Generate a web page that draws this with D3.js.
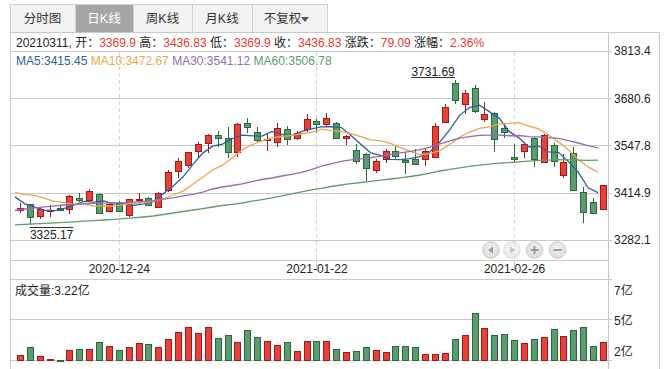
<!DOCTYPE html>
<html><head><meta charset="utf-8">
<script src="https://cdn.jsdelivr.net/npm/d3@7"></script>
<style>
html,body{margin:0;padding:0;background:#fff;}
svg{display:block;font-family:"Liberation Sans","Noto Sans CJK SC",sans-serif;}
</style></head><body><svg id="c" width="667" height="369"></svg>
<script>
// ---------------- data ----------------
const dates = ["2020-12-10","2020-12-11","2020-12-14","2020-12-15","2020-12-16","2020-12-17","2020-12-18","2020-12-21","2020-12-22","2020-12-23",
"2020-12-24","2020-12-25","2020-12-28","2020-12-29","2020-12-30","2020-12-31","2021-01-04","2021-01-05","2021-01-06","2021-01-07",
"2021-01-08","2021-01-11","2021-01-12","2021-01-13","2021-01-14","2021-01-15","2021-01-18","2021-01-19","2021-01-20","2021-01-21",
"2021-01-22","2021-01-25","2021-01-26","2021-01-27","2021-01-28","2021-01-29","2021-02-01","2021-02-02","2021-02-03","2021-02-04",
"2021-02-05","2021-02-08","2021-02-09","2021-02-10","2021-02-18","2021-02-19","2021-02-22","2021-02-23","2021-02-24","2021-02-25",
"2021-02-26","2021-03-01","2021-03-02","2021-03-03","2021-03-04","2021-03-05","2021-03-08","2021-03-09","2021-03-10","2021-03-11"];
const opens = [3368.0,3383.0,3350.5,3365.0,3372.0,3368.4,3401.0,3396.5,3410.5,3363.6,
3387.0,3351.5,3396.0,3399.0,3375.7,3422.6,3474.68,3492.19,3530.91,3552.91,
3577.71,3570.0,3528.7,3611.0,3587.0,3563.0,3557.0,3595.0,3568.0,3594.0,
3615.7,3607.4,3611.0,3568.0,3535.0,3523.0,3480.7,3511.7,3532.0,3507.0,
3509.8,3509.0,3516.0,3613.0,3722.6,3664.4,3708.5,3621.4,3638.0,3596.0,
3515.4,3531.0,3568.0,3500.5,3548.0,3465.7,3525.8,3416.0,3389.8,3369.9];
const highs = [3385.0,3384.5,3371.0,3380.5,3380.5,3408.6,3415.0,3425.0,3415.0,3390.0,
3391.0,3398.0,3413.0,3402.0,3418.0,3479.0,3511.65,3530.0,3556.8,3580.0,
3588.5,3600.0,3610.0,3624.0,3600.0,3584.0,3610.0,3601.4,3589.3,3636.0,
3621.0,3640.0,3614.7,3577.3,3552.0,3525.8,3509.0,3538.0,3546.0,3528.6,
3537.0,3540.0,3610.0,3664.4,3731.69,3704.0,3717.8,3670.0,3642.8,3610.0,
3551.0,3554.0,3572.5,3579.0,3555.6,3523.8,3544.4,3430.0,3399.3,3436.83];
const lows = [3357.0,3325.17,3340.0,3347.6,3363.0,3355.0,3390.0,3390.0,3355.0,3360.8,
3361.6,3346.0,3387.0,3376.8,3372.0,3418.0,3457.21,3484.72,3513.08,3526.62,
3544.4,3512.0,3515.3,3582.0,3558.4,3533.0,3544.0,3550.0,3563.0,3586.5,
3584.0,3600.6,3566.0,3549.0,3495.7,3446.72,3469.6,3497.7,3507.0,3467.6,
3493.0,3490.0,3514.6,3610.0,3663.5,3635.5,3638.0,3614.6,3530.0,3568.0,
3500.5,3511.7,3486.5,3497.7,3488.0,3457.0,3422.6,3328.52,3355.0,3369.9];
const closes = [3373.28,3347.19,3369.12,3367.23,3366.98,3404.87,3394.90,3420.57,3356.78,3382.32,
3363.11,3396.56,3397.29,3379.04,3414.45,3473.07,3502.96,3528.68,3550.88,3576.20,
3570.11,3531.50,3608.34,3598.65,3565.90,3566.38,3596.22,3566.12,3583.09,3621.26,
3606.75,3624.24,3569.43,3573.34,3505.18,3483.07,3505.31,3533.68,3517.31,3501.86,
3496.33,3532.44,3603.49,3655.09,3675.36,3696.17,3642.44,3636.36,3564.08,3585.05,
3509.08,3551.40,3508.59,3576.90,3503.49,3501.99,3421.41,3359.29,3357.74,3436.83];
// closes of the 9 sessions before the first one shown (needed for MA5 / MA10)
const prevCloses = [3408.31,3391.76,3451.94,3449.38,3442.14,3444.58,3416.60,3410.18,3371.96];
const ma30 = [3365.0,3369.2,3372.6,3375.4,3378.2,3380.5,3382.5,3383.9,3385.0,3385.8,
3386.4,3387.2,3388.4,3390.3,3392.9,3396.8,3400.7,3406.1,3410.6,3417.0,
3425.5,3431.1,3435.3,3440.1,3446.5,3452.2,3456.4,3462.0,3466.8,3472.44,
3480.22,3489.46,3496.14,3503.01,3507.62,3510.23,3513.91,3517.68,3523.03,3527.01,
3531.45,3535.98,3542.85,3552.05,3560.75,3568.19,3572.84,3576.43,3576.87,3577.17,
3575.14,3575.80,3572.47,3571.74,3569.66,3567.51,3561.68,3554.79,3547.28,3541.12];
const ma60 = [3324.8,3326.2,3327.6,3329.0,3330.4,3331.9,3333.3,3334.9,3336.6,3338.3,
3340.3,3342.3,3344.5,3346.8,3349.6,3353.8,3358.0,3362.2,3366.4,3370.6,
3374.9,3379.1,3382.5,3386.1,3391.2,3395.9,3400.7,3406.3,3412.0,3417.6,
3422.7,3427.4,3432.5,3436.7,3440.4,3443.7,3447.1,3450.2,3453.6,3456.9,
3460.6,3464.8,3470.4,3476.1,3480.8,3485.1,3488.9,3492.4,3495.6,3498.0,
3499.61,3501.99,3503.94,3506.02,3506.92,3507.92,3507.53,3506.57,3505.70,3506.78];
// volume in 亿
const volumes = [2.23,2.88,2.15,1.94,1.88,2.61,2.69,2.69,3.22,2.91,
2.61,2.84,3.14,3.07,2.84,3.45,3.98,4.37,3.91,4.37,
3.53,3.76,3.22,4.14,3.60,3.30,2.99,3.22,2.53,3.30,
3.30,3.30,2.69,2.46,2.53,2.84,2.61,2.46,2.91,2.91,
2.84,2.30,2.30,2.38,3.45,3.76,5.44,4.29,3.76,3.83,
3.37,3.14,3.45,3.60,4.21,3.68,4.14,4.37,2.91,3.22];
const priceTicks = [3282.1,3414.9,3547.8,3680.6,3813.4];
const dateTicks = ["2020-12-24","2021-01-22","2021-02-26"];
const volTickLabels = ["7亿","5亿","2亿"];
const tabNames = ["分时图","日K线","周K线","月K线","不复权"];
const maNames = ["MA5","MA10","MA30","MA60"];

// ---------------- setup ----------------
const svg = d3.select("#c");
const FONT = 12;
const LEFT = 10.5, PR = 608.5, OUTR = 659.5, TOP = 32.5;
const RED = "#e8413a", REDS = "#9e1b1b", GRN = "#5b9b70", GRNS = "#2a6838";
const maColors = ["#2d5f9a","#e9a84c","#9b69b3","#5c9e70"];
const GRID = "#c9c9c9";

const x = d3.scalePoint().domain(dates).range([20, 603]);
const y = d3.scaleLinear().domain([3282.1, 3813.4]).range([240, 51]);
const yv = d3.scaleLinear().domain([1.868, 8.06]).range([360, 279]);

const allC = prevCloses.concat(closes);
const maOf = n => closes.map((c, i) => d3.mean(allC.slice(i + 10 - n, i + 10)));
const ma5 = maOf(5), ma10 = maOf(10);
const maSeries = [ma5, ma10, ma30, ma60];

// ---------------- tabs ----------------
const tabEdges = [10, 75, 133, 192, 252, 327];
const tabs = svg.append("g");
tabNames.forEach((t, i) => {
  const sel = i === 1;
  tabs.append("rect").attr("x", tabEdges[i] + 0.5).attr("y", 4.5)
    .attr("width", tabEdges[i + 1] - tabEdges[i]).attr("height", 28)
    .attr("fill", sel ? "#a6a6a6" : "#f3f3f3").attr("stroke", "#cfcfcf");
  const cx = (tabEdges[i] + tabEdges[i + 1]) / 2 + (i === 4 ? -7 : 0);
  tabs.append("text").attr("x", cx).attr("y", 19).attr("text-anchor", "middle")
    .attr("dominant-baseline", "central").attr("font-size", 12.5)
    .attr("fill", sel ? "#fff" : "#333").text(t);
  if (i === 4) {
    tabs.append("path").attr("d", "M301,17 L309,17 L305,22 Z").attr("fill", "#555");
  }
});

// ---------------- frame ----------------
const frame = svg.append("g").attr("stroke", GRID).attr("fill", "none").attr("shape-rendering", "crispEdges");
frame.append("line").attr("x1", LEFT).attr("x2", OUTR).attr("y1", TOP).attr("y2", TOP);
frame.append("line").attr("x1", LEFT).attr("x2", LEFT).attr("y1", TOP).attr("y2", 369);
frame.append("line").attr("x1", PR).attr("x2", PR).attr("y1", TOP).attr("y2", 369);
frame.append("line").attr("x1", OUTR).attr("x2", OUTR).attr("y1", TOP).attr("y2", 369);
frame.append("line").attr("x1", LEFT).attr("x2", PR).attr("y1", 260.5).attr("y2", 260.5);
frame.append("line").attr("x1", LEFT).attr("x2", 612).attr("y1", 279.5).attr("y2", 279.5);
frame.append("line").attr("x1", LEFT).attr("x2", 612).attr("y1", 319.5).attr("y2", 319.5);
frame.append("line").attr("x1", LEFT).attr("x2", 612).attr("y1", 360.5).attr("y2", 360.5);

// price grid + right axis
const yAxis = d3.axisRight(y).tickValues(priceTicks).tickSize(0).tickPadding(5)
  .tickFormat(d3.format(".1f"));
priceTicks.forEach(t => {
  frame.append("line").attr("x1", LEFT).attr("x2", 612)
    .attr("y1", Math.round(y(t)) + 0.5).attr("y2", Math.round(y(t)) + 0.5);
});
const ya = svg.append("g").attr("transform", `translate(${PR},0)`).call(yAxis);
ya.select(".domain").remove();
ya.selectAll("text").attr("font-size", FONT).attr("fill", "#222").attr("x", 5.5)
  .attr("font-family", "Liberation Sans, sans-serif");

// vertical dashed date lines + date labels
dateTicks.forEach(d => {
  const xx = Math.round(x(d)) + 0.5;
  svg.append("line").attr("x1", xx).attr("x2", xx).attr("y1", 52).attr("y2", 260)
    .attr("stroke", "#d6d6d6").attr("stroke-dasharray", "4,3");
  svg.append("line").attr("x1", xx).attr("x2", xx).attr("y1", 261).attr("y2", 271)
    .attr("stroke", "#cfcfcf");
});
const xAxis = d3.axisBottom(x).tickValues(dateTicks).tickSize(0).tickPadding(0);
const xa = svg.append("g").attr("transform", "translate(0,266)").call(xAxis);
xa.select(".domain").remove();
xa.selectAll("text").attr("font-size", FONT).attr("fill", "#222").attr("dy", "0.55em")
  .attr("font-family", "Liberation Sans, sans-serif");

// ---------------- header texts ----------------
const last = closes.length - 1;
const chg = closes[last] - closes[last - 1];
const info = svg.append("text").attr("x", 16).attr("y", 46.5).attr("font-size", FONT).attr("fill", "#222");
const parts = [
  [dates[last].replace(/-/g, "") + ", 开：", "#222"], [opens[last].toFixed(1), "#e8382f"],
  [" 高：", "#222"], [highs[last].toFixed(2), "#e8382f"],
  [" 低：", "#222"], [lows[last].toFixed(1), "#e8382f"],
  [" 收：", "#222"], [closes[last].toFixed(2), "#e8382f"],
  [" 涨跌：", "#222"], [chg.toFixed(2), "#e8382f"],
  [" 涨幅：", "#222"], [(chg / closes[last - 1] * 100).toFixed(2) + "%", "#e8382f"]
];
parts.forEach(p => info.append("tspan").attr("fill", p[1]).text(p[0]));

const maText = svg.append("text").attr("x", 16).attr("y", 64.5).attr("font-size", FONT);
maNames.forEach((n, k) => {
  maText.append("tspan").attr("fill", maColors[k])
    .text((k ? " " : "") + n + ":" + maSeries[k][last].toFixed(2));
});

// ---------------- candles ----------------
const cg = svg.append("g").attr("shape-rendering", "crispEdges");
dates.forEach((d, i) => {
  const up = closes[i] >= opens[i];
  const xc = Math.round(x(d));
  const col = up ? RED : GRN, sc = up ? REDS : GRNS;
  cg.append("line").attr("x1", xc + 0.5).attr("x2", xc + 0.5)
    .attr("y1", y(highs[i])).attr("y2", y(lows[i])).attr("stroke", sc).attr("stroke-width", 1);
  const top = Math.round(y(Math.max(opens[i], closes[i])));
  const h = Math.max(1, Math.round(Math.abs(y(opens[i]) - y(closes[i]))));
  cg.append("rect").attr("x", xc - 2.5).attr("y", top + 0.5).attr("width", 6).attr("height", h)
    .attr("fill", col).attr("stroke", sc).attr("stroke-width", 1);
  // volume
  const vt = Math.round(yv(volumes[i]));
  cg.append("rect").attr("x", xc - 2.5).attr("y", vt + 0.5).attr("width", 6)
    .attr("height", Math.max(0.5, 360 - vt)).attr("fill", col).attr("stroke", sc).attr("stroke-width", 1);
});

// ---------------- MA lines ----------------
const line = d3.line().x((d, i) => x(dates[i]) - 5).y(d => y(d)).curve(d3.curveLinear);
maSeries.forEach((s, k) => {
  svg.append("path").attr("d", line(s)).attr("fill", "none")
    .attr("stroke", maColors[k]).attr("stroke-width", 1.3);
});

// ---------------- high / low marks ----------------
const hiI = d3.maxIndex(highs), loI = d3.minIndex(lows);
{
  const xc = x(dates[hiI]), yl = Math.round(y(highs[hiI]) - 3.4) + 0.5;
  const t = svg.append("text").attr("x", xc).attr("y", yl - 2).attr("text-anchor", "end")
    .attr("font-size", FONT).attr("fill", "#222").text(highs[hiI].toFixed(2));
  const w = t.node().getComputedTextLength();
  svg.append("line").attr("x1", xc - w).attr("x2", xc).attr("y1", yl).attr("y2", yl).attr("stroke", "#333");
}
{
  const xc = x(dates[loI]), yl = Math.round(y(lows[loI]) + 2.7) + 0.5;
  const t = svg.append("text").attr("x", xc).attr("y", yl + 11).attr("text-anchor", "start")
    .attr("font-size", FONT).attr("fill", "#222").text(lows[loI].toFixed(2));
  const w = t.node().getComputedTextLength();
  svg.append("line").attr("x1", xc).attr("x2", xc + w).attr("y1", yl).attr("y2", yl).attr("stroke", "#333");
}

// ---------------- nav buttons ----------------
const defs = svg.append("defs");
const gr = defs.append("radialGradient").attr("id", "bg").attr("cx", "50%").attr("cy", "40%").attr("r", "60%");
gr.append("stop").attr("offset", "0%").attr("stop-color", "#f4f4f4");
gr.append("stop").attr("offset", "100%").attr("stop-color", "#d9d9d9");
const navX = [491, 512, 534.5, 557.5];
navX.forEach((cx, k) => {
  svg.append("circle").attr("cx", cx).attr("cy", 250).attr("r", 8.3)
    .attr("fill", "url(#bg)").attr("stroke", "#cdcdcd").attr("opacity", k === 1 ? 0.6 : 1);
  const ic = "#9a9a9a";
  if (k === 0) svg.append("path").attr("d", `M${cx-3},250 L${cx+2},246.5 L${cx+2},253.5 Z`).attr("fill", ic);
  if (k === 1) svg.append("path").attr("d", `M${cx+3},250 L${cx-2},246.5 L${cx-2},253.5 Z`).attr("fill", "#c4c4c4");
  if (k >= 2) svg.append("rect").attr("x", cx - 4).attr("y", 249).attr("width", 8).attr("height", 2).attr("fill", ic);
  if (k === 2) svg.append("rect").attr("x", cx - 1).attr("y", 246).attr("width", 2).attr("height", 8).attr("fill", ic);
});

// ---------------- volume texts ----------------
svg.append("text").attr("x", 15).attr("y", 294.5).attr("font-size", FONT).attr("fill", "#222")
  .text("成交量:" + volumes[last].toFixed(2) + "亿");
const volLabelY = [294.5, 325, 356];
volTickLabels.forEach((t, k) => {
  svg.append("text").attr("x", 614).attr("y", volLabelY[k]).attr("font-size", FONT)
    .attr("fill", "#222").text(t);
});
</script></body></html>
